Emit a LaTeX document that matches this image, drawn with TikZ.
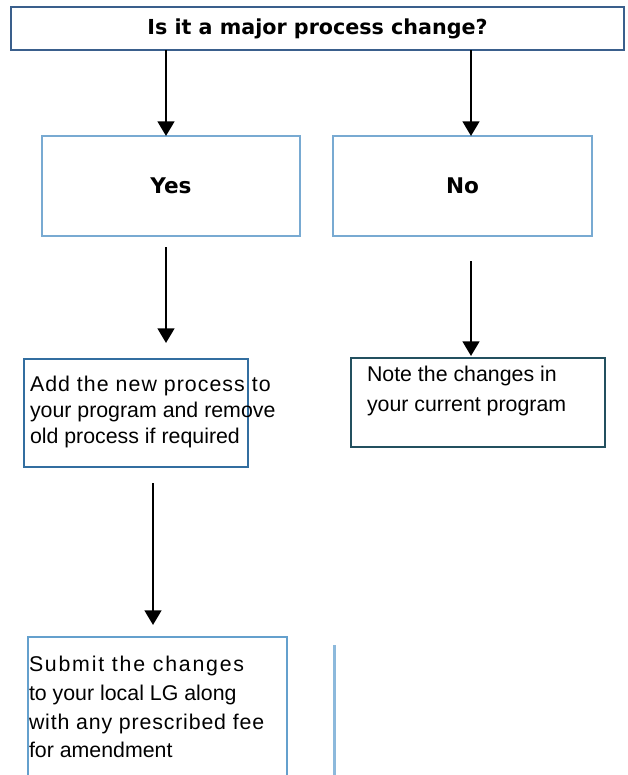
\documentclass[tikz,border=0pt]{standalone}
\usepackage{fontspec}
\setmainfont{Liberation Sans}
\newfontfamily\hdfont{DejaVu Sans}
\usetikzlibrary{arrows.meta}
\definecolor{titleblue}{RGB}{58,95,140}
\definecolor{lightbox}{RGB}{120,170,210}
\definecolor{addblue}{RGB}{50,110,160}
\definecolor{noteteal}{RGB}{35,80,95}
\definecolor{subblue}{RGB}{100,160,205}
\definecolor{vline}{RGB}{140,185,220}
\tikzset{
  box/.style={draw, rectangle, inner sep=0pt, outer sep=0pt},
  hd/.style={font=\hdfont\bfseries\fontsize{15.5pt}{18pt}\selectfont},
  yn/.style={font=\hdfont\bfseries\fontsize{16.2pt}{18pt}\selectfont},
  body/.style={inner sep=0pt, outer sep=0pt, align=left, anchor=north west},
  arr/.style={line width=1.9pt, -{Triangle[width=12.5pt,length=11pt]}},
}
\begin{document}
\begin{tikzpicture}[x=0.75pt,y=-0.75pt]
\useasboundingbox (0,0) rectangle (628,775);
% title
\node[box, draw=titleblue, line width=1.5pt, minimum width=459.75pt, minimum height=32.25pt, hd] (title) at (317.5,28.5) {Is it a major process change?};
% yes / no
\node[box, draw=lightbox, line width=1pt, minimum width=193.5pt, minimum height=75pt, yn] (yes) at (171,186) {Yes};
\node[box, draw=lightbox, line width=1pt, minimum width=194.25pt, minimum height=75pt, yn] (no) at (462.5,186) {No};
% add box
\node[box, draw=addblue, line width=0.8pt, minimum width=168pt, minimum height=81pt] (add) at (136,413) {};
\node[body, font=\fontsize{16pt}{19.2pt}\selectfont] (addtxt) at (30,376.5)
  {{\addfontfeature{LetterSpace=4.9}Add the new process to}\\your program and remove\\old process if required};
% note box
\node[box, draw=noteteal, line width=1.8pt, minimum width=190.5pt, minimum height=66.75pt] (note) at (478,402.5) {};
\node[body, font=\fontsize{16pt}{22.5pt}\selectfont] (notetxt) at (367,366.5)
  {Note the changes in\\your current program};
% submit box (runs past the bottom edge)
\node[box, draw=subblue, line width=0.8pt, minimum width=194.25pt, minimum height=111pt] (submit) at (157.5,711) {};
\node[body, font=\fontsize{16pt}{21.5pt}\selectfont] (subtxt) at (29,656.5)
  {{\addfontfeature{LetterSpace=8.3}Submit the changes}\\to your local LG along\\{\addfontfeature{LetterSpace=3.9}with any prescribed fee}\\for amendment};
% vertical line
\coordinate (vtop) at (334,645);
\coordinate (vbot) at (334,780);
\draw[vline, line width=2.25pt] (vtop) -- (vbot);
% arrows
\coordinate (a1s) at (166,50);
\draw[arr] (a1s) -- (yes.north -| a1s);
\coordinate (a2s) at (471,50);
\draw[arr] (a2s) -- (no.north -| a2s);
\coordinate (a3s) at (166,247);
\coordinate (a3e) at (166,343);
\draw[arr] (a3s) -- (a3e);
\coordinate (a4s) at (471,261);
\coordinate (a4e) at (471,356);
\draw[arr] (a4s) -- (a4e);
\coordinate (a5s) at (153,483);
\coordinate (a5e) at (153,625);
\draw[arr] (a5s) -- (a5e);
\end{tikzpicture}
\end{document}
